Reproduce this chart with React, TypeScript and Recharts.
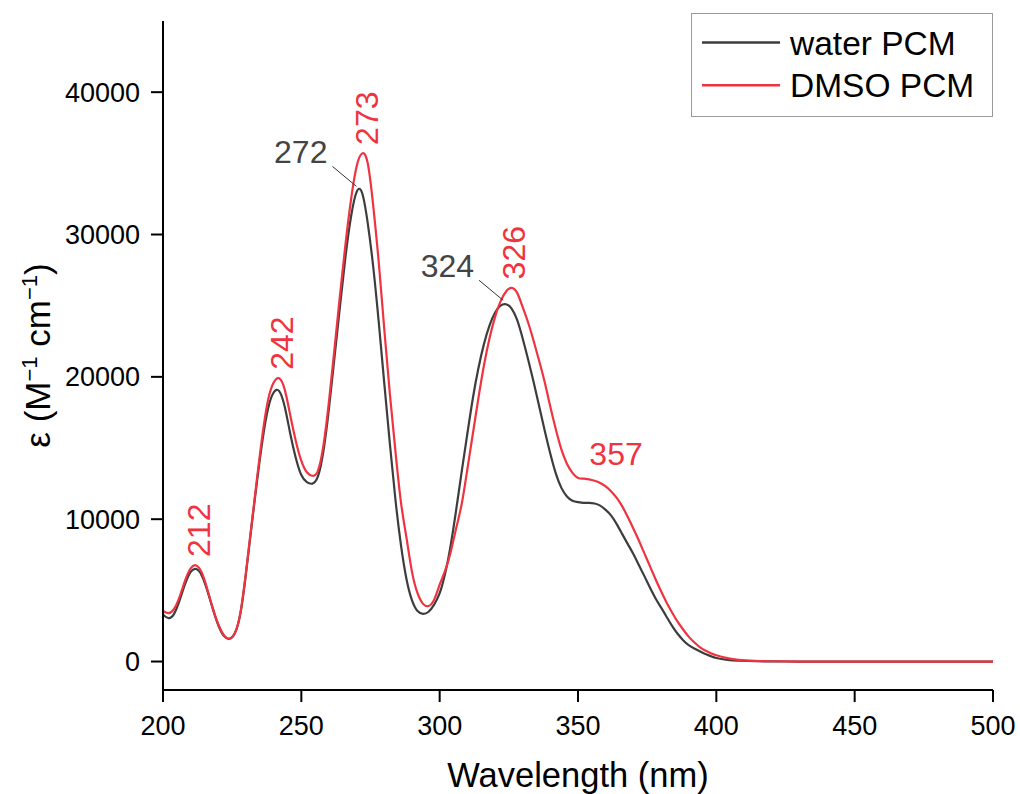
import React from 'react';
import { LineChart, Line, XAxis, YAxis, Legend, ReferenceDot } from 'recharts';

// wavelength grid (nm)
const wavelengths = [
  200, 202, 204, 206, 208, 210, 212, 214, 216, 218, 220, 222, 224, 226, 228, 230, 232, 234, 236, 238,
  240, 242, 244, 246, 248, 250, 252, 254, 256, 258, 260, 262, 264, 266, 268, 270, 272, 274, 276, 278,
  280, 282, 284, 286, 288, 290, 292, 294, 296, 298, 300, 302, 304, 306, 308, 310, 312, 314, 316, 318,
  320, 322, 324, 326, 328, 330, 332, 334, 336, 338, 340, 342, 344, 346, 348, 350, 352, 354, 356, 358,
  360, 362, 364, 366, 368, 370, 372, 374, 376, 378, 380, 382, 384, 386, 388, 390, 392, 394, 396, 398,
  400, 404, 408, 414, 420, 430, 440, 460, 480, 500,
];

const waterEps = [
  3300, 3050, 3350, 4300, 5450, 6300, 6500, 6050, 5000, 3700, 2550, 1800, 1600, 2000, 3400, 6200, 9500, 12700, 15600, 17800,
  18900, 19000, 17900, 16000, 14300, 13100, 12600, 12500, 13000, 14800, 17800, 21400, 25000, 28500, 31300, 33000, 32900, 30800, 27700, 23800,
  19500, 15300, 11400, 8200, 5800, 4300, 3550, 3350, 3500, 4000, 4800, 6200, 8200, 10700, 13400, 16000, 18500, 20600, 22300, 23600,
  24500, 25000, 25100, 24800, 24000, 22700, 21200, 19600, 17900, 16200, 14600, 13200, 12200, 11600, 11300, 11200, 11150, 11150, 11100, 10950,
  10650, 10250, 9650, 8950, 8250, 7550, 6780, 6000, 5200, 4450, 3800, 3150, 2500, 1950, 1500, 1150, 920, 720, 530, 380,
  250, 120, 60, 25, 10, 0, 0, 0, 0, 0,
];

const dmsoEps = [
  3550, 3400, 3700, 4550, 5700, 6550, 6750, 6250, 5100, 3750, 2600, 1850, 1600, 2000, 3450, 6300, 9600, 12900, 16000, 18400,
  19600, 19900, 19100, 17300, 15500, 14100, 13300, 13050, 13400, 15200, 18300, 22000, 25800, 29400, 32500, 34800, 35700, 35000, 32000, 28000,
  23300, 18800, 14800, 11200, 8700, 6300, 4800, 4050, 3900, 4350, 5400, 6400, 7700, 9400, 11100, 13500, 16000, 18500, 20800, 22700,
  24200, 25300, 26000, 26250, 25900, 24900, 23800, 22500, 21100, 19600, 17900, 16300, 14900, 13900, 13250, 12900, 12850, 12800, 12700, 12550,
  12300, 11950, 11500, 10900, 10150, 9350, 8500, 7600, 6700, 5800, 4950, 4150, 3450, 2800, 2250, 1750, 1350, 1020, 780, 590,
  440, 240, 120, 50, 20, 0, 0, 0, 0, 0,
];

const xMajorTicks = [200, 250, 300, 350, 400, 450, 500];
const xMinorTicks = [225, 275, 325, 375, 425, 475];
const yMajorTicks = [0, 10000, 20000, 30000, 40000];
const yMinorTicks = [5000, 15000, 25000, 35000, 45000];

// peak labels
const dmsoPeakNm = [212, 242, 273, 326];
const dmsoPeakEps = [6750, 19900, 35700, 26250];
const waterPeakNm = [271, 324];
const waterPeakEps = [33100, 25100];
const waterPeakText = ['272', '324'];
const dmsoShoulderNm = [357];
const dmsoShoulderEps = [12650];

const seriesOrder = ['water PCM', 'DMSO PCM'];

const FONT = '"Liberation Sans", Arial, Helvetica, sans-serif';
const WATER = '#3d3d3d';
const DMSO = '#ef3340';

const data = wavelengths.map((wl, i) => ({ wl, water: waterEps[i], dmso: dmsoEps[i] }));

const tickStyle = { fontSize: 27, fontFamily: FONT, fill: '#000' };
const tickLineStyle = { stroke: '#000', strokeWidth: 2 };

const xTitle = ({ viewBox }: any) => (
  <text x={viewBox.x + viewBox.width / 2} y={787} textAnchor="middle" fontSize={34.5} fontFamily={FONT} fill="#000">
    Wavelength (nm)
  </text>
);

const yTitle = ({ viewBox }: any) => {
  const cx = viewBox.x + 50;
  const cy = viewBox.y + viewBox.height / 2;
  return (
    <text
      x={cx}
      y={cy}
      transform={`rotate(-90, ${cx}, ${cy})`}
      textAnchor="middle"
      fontSize={35}
      fontFamily={FONT}
      fill="#000"
    >
      ε (M
      <tspan dy={-13} fontSize={22}>−1</tspan>
      <tspan dy={13}> cm</tspan>
      <tspan dy={-13} fontSize={22}>−1</tspan>
      <tspan dy={13}>)</tspan>
    </text>
  );
};

// rotated red labels above DMSO peaks
const rotLabel = (text: string) => ({ viewBox }: any) => {
  const bx = viewBox.x + 13.5;
  const by = viewBox.y - 8.5;
  return (
    <text
      x={bx}
      y={by}
      transform={`rotate(-90, ${bx}, ${by})`}
      textAnchor="start"
      fontSize={32}
      fontFamily={FONT}
      fill={DMSO}
    >
      {text}
    </text>
  );
};

// gray callouts with leader line for water peaks
const calloutLabel = (text: string) => ({ viewBox }: any) => {
  const px = viewBox.x;
  const py = viewBox.y;
  return (
    <g>
      <line x1={px - 3} y1={py - 4} x2={px - 27} y2={py - 24} stroke="#333" strokeWidth={1} />
      <text x={px - 32} y={py - 27} textAnchor="end" fontSize={32} fontFamily={FONT} fill="#444">
        {text}
      </text>
    </g>
  );
};

const shoulderLabel = (text: string) => ({ viewBox }: any) => (
  <text x={viewBox.x - 8} y={viewBox.y - 16} fontSize={32} fontFamily={FONT} fill={DMSO}>
    {text}
  </text>
);

const LegendBox = ({ payload }: any) => {
  const items = [...(payload || [])].sort(
    (a: any, b: any) => seriesOrder.indexOf(a.value) - seriesOrder.indexOf(b.value)
  );
  return (
    <svg width={302} height={104} style={{ display: 'block' }}>
      <rect x={0.5} y={0.5} width={301} height={103} fill="#fff" stroke="#9a9a9a" strokeWidth={1} />
      {items.map((entry: any, i: number) => (
        <g key={entry.value}>
          <line x1={11} x2={89} y1={29.5 + i * 42.7} y2={29.5 + i * 42.7} stroke={entry.color} strokeWidth={2.5} />
          <text x={99} y={42 + i * 42.3} fontSize={33.5} fontFamily={FONT} fill="#000">
            {entry.value}
          </text>
        </g>
      ))}
    </svg>
  );
};

const App = () => {
  return (
    <div style={{ position: 'absolute', left: 0, top: 0, width: 1020, height: 794, background: '#fff' }}>
      <LineChart width={1020} height={794} data={data} margin={{ top: 21, right: 27, bottom: 0, left: 0 }}>
        {/* minor ticks: zero-size axes sitting on the plot edge */}
        <XAxis
          xAxisId="minor"
          dataKey="wl"
          type="number"
          domain={[200, 500]}
          ticks={xMinorTicks}
          interval={0}
          height={0}
          tickSize={7}
          tick={false}
          tickLine={tickLineStyle}
          axisLine={false}
          allowDataOverflow
        />
        <YAxis
          yAxisId="minor"
          type="number"
          domain={[-2000, 45000]}
          ticks={yMinorTicks}
          interval={0}
          width={0}
          tickSize={7}
          tick={false}
          tickLine={tickLineStyle}
          axisLine={false}
          allowDataOverflow
        />
        <XAxis
          dataKey="wl"
          type="number"
          domain={[200, 500]}
          ticks={xMajorTicks}
          interval={0}
          height={104}
          tickSize={12}
          tickMargin={14}
          tick={tickStyle}
          tickLine={tickLineStyle}
          axisLine={{ stroke: '#000', strokeWidth: 2 }}
          allowDataOverflow
          label={xTitle}
        />
        <YAxis
          type="number"
          domain={[-2000, 45000]}
          ticks={yMajorTicks}
          interval={0}
          width={163}
          tickSize={12}
          tickMargin={11}
          tick={tickStyle}
          tickLine={tickLineStyle}
          axisLine={{ stroke: '#000', strokeWidth: 2 }}
          allowDataOverflow
          label={yTitle}
        />
        <Legend
          layout="horizontal"
          verticalAlign="middle"
          align="center"
          content={LegendBox}
          wrapperStyle={{ left: 691, top: 13, width: 302, height: 104 }}
        />
        <Line
          name="water PCM"
          type="natural"
          dataKey="water"
          stroke={WATER}
          strokeWidth={2.2}
          dot={false}
          activeDot={false}
          isAnimationActive={false}
        />
        <Line
          name="DMSO PCM"
          type="natural"
          dataKey="dmso"
          stroke={DMSO}
          strokeWidth={2.2}
          dot={false}
          activeDot={false}
          isAnimationActive={false}
        />
        {dmsoPeakNm.map((nm, i) => (
          <ReferenceDot
            key={`d${nm}`}
            x={nm}
            y={dmsoPeakEps[i]}
            r={0}
            fill="none"
            stroke="none"
            ifOverflow="visible"
            label={rotLabel(String(nm))}
          />
        ))}
        {waterPeakNm.map((nm, i) => (
          <ReferenceDot
            key={`w${nm}`}
            x={nm}
            y={waterPeakEps[i]}
            r={0}
            fill="none"
            stroke="none"
            ifOverflow="visible"
            label={calloutLabel(waterPeakText[i])}
          />
        ))}
        {dmsoShoulderNm.map((nm, i) => (
          <ReferenceDot
            key={`s${nm}`}
            x={nm}
            y={dmsoShoulderEps[i]}
            r={0}
            fill="none"
            stroke="none"
            ifOverflow="visible"
            label={shoulderLabel(String(nm))}
          />
        ))}
      </LineChart>
    </div>
  );
};

export default App;
